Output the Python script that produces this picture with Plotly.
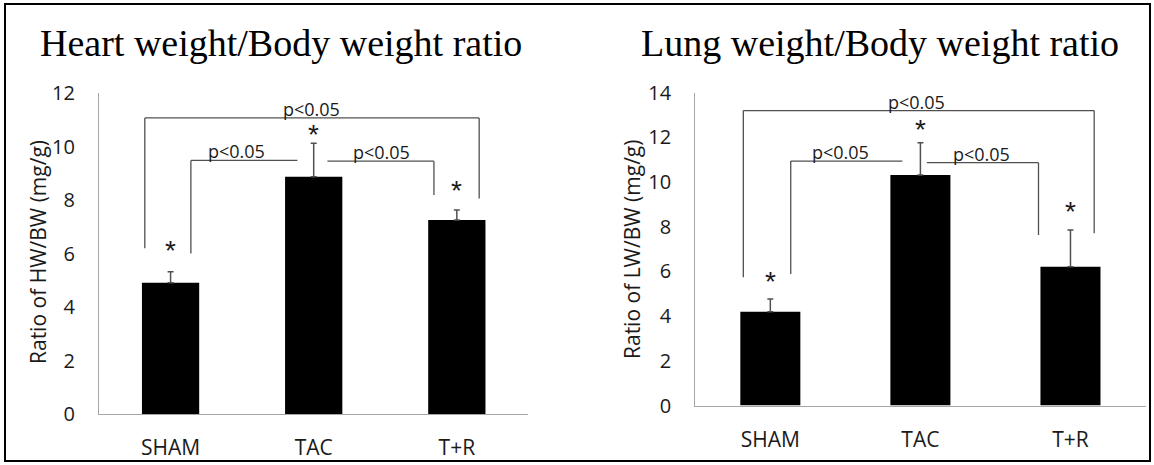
import plotly.graph_objects as go

# ---------------- data ----------------
CATEGORIES = ["SHAM", "TAC", "T+R"]

HW_MEAN = [4.91, 8.87, 7.25]
HW_ERR = [0.41, 1.25, 0.38]
HW_TICKS = [0, 2, 4, 6, 8, 10, 12]
HW_STAR_Y = [6.32, 10.68, 8.59]

LW_MEAN = [4.20, 10.32, 6.21]
LW_ERR = [0.57, 1.44, 1.65]
LW_TICKS = [0, 2, 4, 6, 8, 10, 12, 14]
LW_STAR_Y = [5.84, 12.63, 8.93]

TITLES = ["Heart weight/Body weight ratio", "Lung weight/Body weight ratio"]
Y_TITLES = ["Ratio of HW/BW (mg/g)", "Ratio of LW/BW (mg/g)"]
P_LABEL = "p<0.05"

# significance brackets: horizontal span, height, drop ends (None = no drop), label x
HW_BRACKETS = [
    dict(x0=-0.18, x1=2.156, y=11.07, ldrop=6.2, rdrop=8.06, lx=0.984),
    dict(x0=0.142, x1=0.886, y=9.48, ldrop=6.0, rdrop=None, lx=0.46),
    dict(x0=1.096, x1=1.84, y=9.45, ldrop=None, rdrop=8.19, lx=1.474),
]
LW_BRACKETS = [
    dict(x0=-0.18, x1=2.158, y=13.2, ldrop=5.74, rdrop=7.71, lx=0.977),
    dict(x0=0.136, x1=0.88, y=10.94, ldrop=5.89, rdrop=None, lx=0.465),
    dict(x0=1.043, x1=1.787, y=10.87, ldrop=None, rdrop=7.63, lx=1.405),
]

# ---------------- styling ----------------
W, H = 1154, 465
SANS = "Open Sans"
STAR_FONT = "Liberation Sans"
SERIF = "Liberation Serif"
TXT = "#1a1a1a"
AXIS_GRAY = "#a6a6a6"
LINE_GRAY = "#505050"

fig = go.Figure()

panels = [
    dict(mean=HW_MEAN, err=HW_ERR, ticks=HW_TICKS, stars=HW_STAR_Y, br=HW_BRACKETS,
         xa="x", ya="y", xdom=[99 / W, 528.4 / W], ydom=[(H - 414) / H, (H - 93) / H],
         rng=[0, 12], title_x=280.5 / W, ytitle_x=38 / W, ytitle_y=(H - 252) / H),
    dict(mean=LW_MEAN, err=LW_ERR, ticks=LW_TICKS, stars=LW_STAR_Y, br=LW_BRACKETS,
         xa="x2", ya="y2", xdom=[695.3 / W, 1145.5 / W], ydom=[(H - 405.5) / H, (H - 92.7) / H],
         rng=[0, 14], title_x=880 / W, ytitle_x=632 / W, ytitle_y=(H - 250) / H),
]

shapes = []
annotations = []

for i, p in enumerate(panels):
    fig.add_trace(go.Bar(
        x=CATEGORIES, y=p["mean"], width=0.4,
        marker=dict(color="black", line=dict(width=0)),
        error_y=dict(type="data", symmetric=False, array=p["err"],
                     arrayminus=[0] * len(p["err"]),
                     color=LINE_GRAY, thickness=1.5, width=3),
        xaxis=p["xa"], yaxis=p["ya"], showlegend=False, hoverinfo="skip",
    ))
    axis_suffix = "" if i == 0 else "2"
    fig.update_layout(**{
        "xaxis" + axis_suffix: dict(
            domain=p["xdom"], anchor=p["ya"], type="category", range=[-0.5, 2.5],
            showline=True, linecolor=AXIS_GRAY, linewidth=1.3, ticks="",
            showgrid=False, zeroline=False, ticklabelstandoff=15, automargin=False,
            tickfont=dict(family=SANS, size=21, color=TXT),
        ),
        "yaxis" + axis_suffix: dict(
            domain=p["ydom"], anchor=p["xa"], range=p["rng"], tickvals=p["ticks"],
            showline=True, linecolor=AXIS_GRAY, linewidth=1.3, ticks="",
            showgrid=False, zeroline=False, ticklabelstandoff=19, automargin=False,
            tickfont=dict(family=SANS, size=20, color=TXT),
        ),
    })

    # brackets
    for b in p["br"]:
        line = dict(color=LINE_GRAY, width=1.3)
        shapes.append(dict(type="line", xref=p["xa"], yref=p["ya"],
                           x0=b["x0"], x1=b["x1"], y0=b["y"], y1=b["y"], line=line))
        if b["ldrop"] is not None:
            shapes.append(dict(type="line", xref=p["xa"], yref=p["ya"],
                               x0=b["x0"], x1=b["x0"], y0=b["ldrop"], y1=b["y"], line=line))
        if b["rdrop"] is not None:
            shapes.append(dict(type="line", xref=p["xa"], yref=p["ya"],
                               x0=b["x1"], x1=b["x1"], y0=b["rdrop"], y1=b["y"], line=line))
        annotations.append(dict(xref=p["xa"], yref=p["ya"], x=b["lx"], y=b["y"],
                                text=P_LABEL, showarrow=False, yanchor="bottom",
                                yshift=-5, font=dict(family=SANS, size=18, color=TXT)))

    # stars
    for j, sy in enumerate(p["stars"]):
        annotations.append(dict(xref=p["xa"], yref=p["ya"], x=j, y=sy, text="*",
                                showarrow=False, yanchor="middle", yshift=-6,
                                font=dict(family=STAR_FONT, size=28, color=TXT)))

    # titles
    annotations.append(dict(xref="paper", yref="paper", x=p["title_x"], y=(H - 43) / H,
                            text=TITLES[i], showarrow=False, xanchor="center", yanchor="middle",
                            font=dict(family=SERIF, size=38, color="black")))
    annotations.append(dict(xref="paper", yref="paper", x=p["ytitle_x"], y=p["ytitle_y"],
                            text=Y_TITLES[i], showarrow=False, textangle=-90,
                            xanchor="center", yanchor="middle",
                            font=dict(family=SANS, size=21, color=TXT)))

# outer frame
shapes.append(dict(type="rect", xref="paper", yref="paper",
                   x0=5 / W, x1=1150 / W, y0=4 / H, y1=(H - 4) / H,
                   line=dict(color="black", width=2)))

fig.update_layout(
    width=W, height=H, margin=dict(l=0, r=0, t=0, b=0, autoexpand=False),
    paper_bgcolor="white", plot_bgcolor="white",
    shapes=shapes, annotations=annotations, bargap=0.6,
)

fig.write_html("out.html", config={"displayModeBar": False})
